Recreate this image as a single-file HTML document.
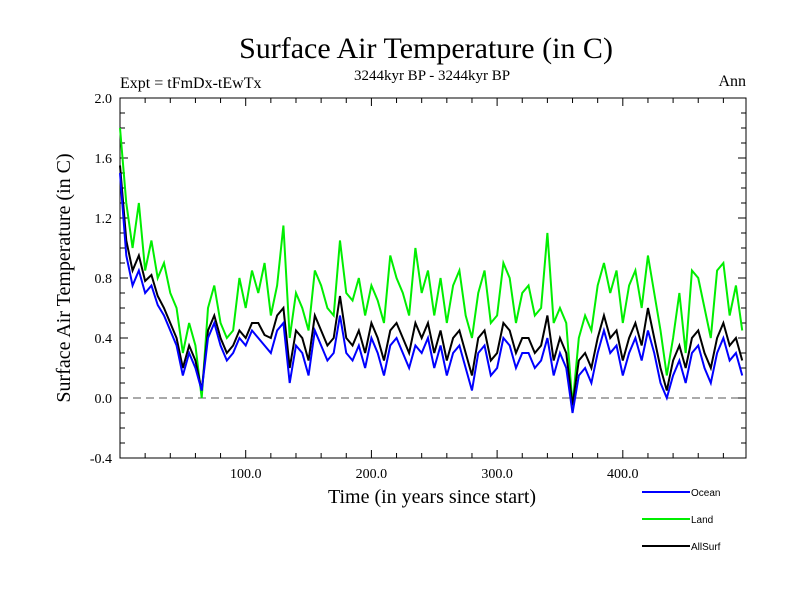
<!DOCTYPE html>
<html><head><meta charset="utf-8"><style>
body{margin:0;background:#fff;}
svg text{font-family:"Liberation Serif",serif;}
</style></head><body>
<svg id="chart" width="800" height="600" xmlns="http://www.w3.org/2000/svg">
<text x="426" y="58" font-size="30" text-anchor="middle">Surface Air Temperature (in C)</text>
<text x="120" y="88" font-size="16">Expt = tFmDx-tEwTx</text>
<text x="432" y="80" font-size="15" text-anchor="middle">3244kyr BP - 3244kyr BP</text>
<text x="746" y="86" font-size="16" text-anchor="end">Ann</text>
<text x="432" y="503" font-size="20" text-anchor="middle">Time (in years since start)</text>
<text transform="translate(70,278) rotate(-90)" font-size="20" text-anchor="middle">Surface Air Temperature (in C)</text>
<g id="axes"></g>
<g id="series"></g>
<g id="legend"></g>
</svg>
<script>
const years = [0,5,10,15,20,25,30,35,40,45,50,55,60,65,70,75,80,85,90,95,100,105,110,115,120,125,130,135,140,145,150,155,160,165,170,175,180,185,190,195,200,205,210,215,220,225,230,235,240,245,250,255,260,265,270,275,280,285,290,295,300,305,310,315,320,325,330,335,340,345,350,355,360,365,370,375,380,385,390,395,400,405,410,415,420,425,430,435,440,445,450,455,460,465,470,475,480,485,490,495];
const ocean = [1.5,0.95,0.75,0.85,0.7,0.75,0.62,0.55,0.45,0.35,0.15,0.3,0.2,0.05,0.4,0.5,0.35,0.25,0.3,0.4,0.35,0.45,0.4,0.35,0.3,0.45,0.5,0.1,0.35,0.3,0.15,0.45,0.35,0.25,0.3,0.55,0.3,0.25,0.35,0.2,0.4,0.3,0.15,0.35,0.4,0.3,0.2,0.35,0.3,0.4,0.2,0.35,0.15,0.3,0.35,0.2,0.05,0.3,0.35,0.15,0.2,0.4,0.35,0.2,0.3,0.3,0.2,0.25,0.4,0.15,0.3,0.2,-0.1,0.15,0.2,0.1,0.3,0.45,0.3,0.35,0.15,0.3,0.4,0.25,0.45,0.3,0.1,0.0,0.15,0.25,0.1,0.3,0.35,0.2,0.1,0.3,0.4,0.25,0.3,0.15];
const land = [1.8,1.3,1.0,1.3,0.85,1.05,0.8,0.9,0.7,0.6,0.3,0.5,0.35,0.0,0.6,0.75,0.5,0.4,0.45,0.8,0.6,0.85,0.7,0.9,0.55,0.75,1.15,0.4,0.7,0.6,0.45,0.85,0.75,0.6,0.55,1.05,0.7,0.65,0.8,0.55,0.75,0.65,0.5,0.95,0.8,0.7,0.55,1.0,0.7,0.85,0.55,0.8,0.5,0.75,0.85,0.55,0.4,0.7,0.85,0.5,0.55,0.9,0.8,0.5,0.7,0.75,0.55,0.6,1.1,0.5,0.6,0.5,-0.05,0.4,0.55,0.45,0.75,0.9,0.7,0.85,0.5,0.75,0.85,0.6,0.95,0.7,0.45,0.15,0.4,0.7,0.3,0.85,0.8,0.6,0.4,0.85,0.9,0.55,0.75,0.45];
const allsurf = [1.55,1.05,0.85,0.95,0.78,0.82,0.68,0.6,0.5,0.4,0.2,0.35,0.25,0.05,0.45,0.55,0.4,0.3,0.35,0.45,0.4,0.5,0.5,0.42,0.4,0.55,0.6,0.2,0.45,0.4,0.25,0.55,0.45,0.35,0.4,0.68,0.4,0.35,0.45,0.3,0.5,0.4,0.25,0.45,0.5,0.4,0.3,0.5,0.4,0.5,0.3,0.45,0.25,0.4,0.45,0.3,0.15,0.4,0.45,0.25,0.3,0.5,0.45,0.3,0.4,0.4,0.3,0.35,0.55,0.25,0.4,0.3,-0.05,0.25,0.3,0.2,0.4,0.55,0.4,0.45,0.25,0.4,0.5,0.35,0.6,0.4,0.2,0.05,0.25,0.35,0.2,0.4,0.45,0.3,0.2,0.4,0.5,0.35,0.4,0.25];
const yTicks = [-0.4,0.0,0.4,0.8,1.2,1.6,2.0];
const xTicks = [100,200,300,400];

const L=120,R=746,T=98,B=458;
const xs=v=>L+(v-0)/498*(R-L);
const ys=v=>B-(v+0.4)/2.4*(B-T);
const NS="http://www.w3.org/2000/svg";
function mk(tag,attrs,parent){const e=document.createElementNS(NS,tag);for(const k in attrs)e.setAttribute(k,attrs[k]);parent.appendChild(e);return e;}
const axes=document.getElementById('axes');
const frame=mk('rect',{x:L,y:T,width:R-L,height:B-T,fill:'none',stroke:'#000','stroke-width':1},axes);


const zl=mk('line',{x1:L,x2:R,y1:ys(0),y2:ys(0),stroke:'#555','stroke-dasharray':'8,5'},axes);


for(let v=-0.4;v<=2.001;v+=0.1){const y=ys(v);const maj=Math.abs(Math.round(v*10)%4)===0;const w=maj?8:5;
mk('line',{x1:L,x2:L+w,y1:y,y2:y,stroke:'#000'},axes);mk('line',{x1:R-w,x2:R,y1:y,y2:y,stroke:'#000'},axes);}
for(let v=0;v<=500;v+=20){const x=xs(v);if(x>R)break;const w=(v%100===0)?8:5;
mk('line',{x1:x,x2:x,y1:B,y2:B-w,stroke:'#000'},axes);mk('line',{x1:x,x2:x,y1:T,y2:T+w,stroke:'#000'},axes);}
yTicks.forEach(v=>{const t=mk('text',{x:L-8,y:ys(v)+5,'font-size':14,'text-anchor':'end'},axes);t.textContent=v.toFixed(1);

});
xTicks.forEach(v=>{const t=mk('text',{x:xs(v),y:B+20,'font-size':14,'text-anchor':'middle'},axes);t.textContent=v.toFixed(1);

});
const ser=document.getElementById('series');
function line(vals,color,name){const p=mk('polyline',{points:vals.map((v,i)=>xs(years[i])+','+ys(v)).join(' '),fill:'none',stroke:color,'stroke-width':2},ser);

}
line(land,'#00ee00','land-line');
line(allsurf,'#000000','allsurf-line');
line(ocean,'#0000ff','ocean-line');
const lg=document.getElementById('legend');
[['Ocean','#0000ff',492],['Land','#00ee00',519],['AllSurf','#000000',546]].forEach(([n,c,y])=>{
const l=mk('line',{x1:642,x2:690,y1:y,y2:y,stroke:c,'stroke-width':2},lg);


const t=mk('text',{x:691,y:y+4,'font-size':10,style:'font-family:"Liberation Sans",sans-serif'},lg);t.textContent=n;

});
</script>
</body></html>
